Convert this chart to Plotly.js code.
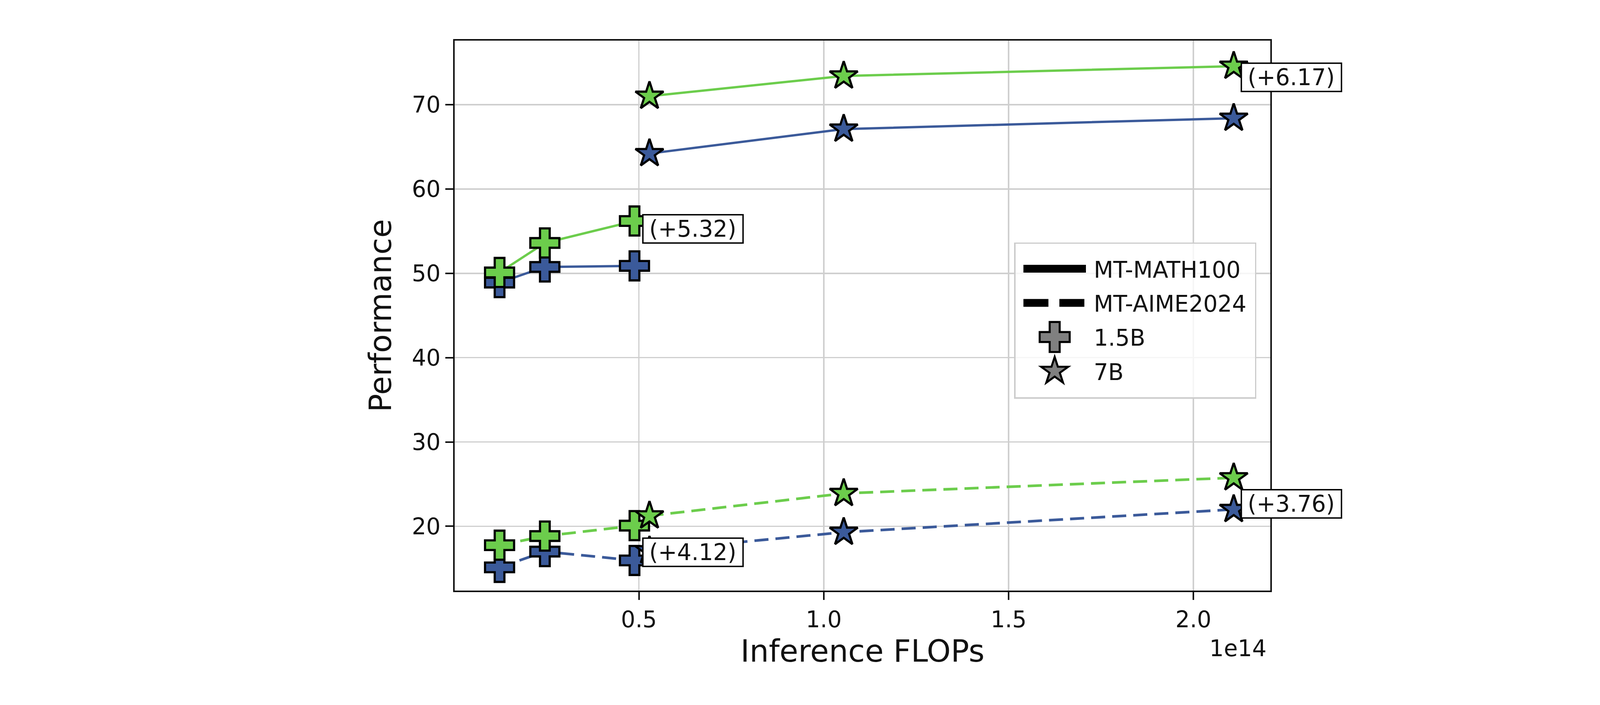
<!DOCTYPE html>
<html>
<head>
<meta charset="utf-8">
<script src="https://cdn.plot.ly/plotly-3.0.1.min.js"></script>
<style>
  html, body { margin: 0; padding: 0; background: #fff; overflow: hidden; }
  #wrap { width: 4400px; height: 1805px; overflow: hidden; }
  /* the chart is laid out at 1/4 size and scaled up, like a high-dpi figure */
  #chart { width: 1100px; height: 451px; transform: scale(4); transform-origin: 0 0; }
</style>
</head>
<body>
<div id="wrap"><div id="chart"></div></div>
<script>
// inference FLOPs (units of 1e14)
const flops15B = [0.123, 0.2455, 0.488];
const flops7B = [0.5285, 1.054, 2.109];

// MT-MATH100
const math15Blue = [48.9, 50.75, 50.88];
const math15Green = [50.1, 53.6, 56.2];
const math7Blue = [64.2, 67.1, 68.39];
const math7Green = [71.0, 73.4, 74.56];

// MT-AIME2024
const aime15Blue = [15.13, 17.0, 15.95];
const aime15Green = [17.76, 18.84, 20.08];
const aime7Blue = [17.1, 19.3, 22.0];
const aime7Green = [21.24, 23.9, 25.76];

const gainLabels = ['(+5.32)', '(+6.17)', '(+4.12)', '(+3.76)'];
const xTickVals = [0.5, 1.0, 1.5, 2.0];
const xTickText = ['0.5', '1.0', '1.5', '2.0'];
const yTickVals = [20, 30, 40, 50, 60, 70];
const E14 = 1e14;

const BLUE = '#3b5a9a', GREEN = '#6ccd4c';
const FONT = 'DejaVu Sans, Liberation Sans, sans-serif';

function series(x, y, color, symbol, dashed){
  return {
    type: 'scatter', mode: 'lines+markers', showlegend: false, hoverinfo: 'skip',
    x: x.map(v => v * E14), y: y,
    line: { color: color, width: dashed ? 1.7 : 1.5, dash: dashed ? '9px,4.5px' : 'solid' },
    marker: { symbol: symbol, size: symbol === 'cross' ? 15.5 : 13.5, color: color, line: { color: '#000', width: 1.4 } }
  };
}

const traces = [
  series(flops15B, math15Blue, BLUE, 'cross', false),
  series(flops15B, math15Green, GREEN, 'cross', false),
  series(flops7B, math7Blue, BLUE, 'star', false),
  series(flops7B, math7Green, GREEN, 'star', false),
  series(flops15B, aime15Blue, BLUE, 'cross', true),
  series(flops15B, aime15Green, GREEN, 'cross', true),
  series(flops7B, aime7Blue, BLUE, 'star', true),
  series(flops7B, aime7Green, GREEN, 'star', true),
  // legend entries
  { type:'scatter', mode:'lines', name:'MT-MATH100', legendgroup:'a', x:[null], y:[null], line:{ color:'#000', width:5 } },
  { type:'scatter', mode:'lines', name:'MT-AIME2024', legendgroup:'b', x:[null], y:[null], line:{ color:'#000', width:5, dash:'16px,7px' } },
  { type:'scatter', mode:'markers', name:'1.5B', legendgroup:'c', x:[null], y:[null], marker:{ symbol:'cross', size:16, color:'#808080', line:{ color:'#000', width:1.3 } } },
  { type:'scatter', mode:'markers', name:'7B', legendgroup:'d', x:[null], y:[null], marker:{ symbol:'star', size:13, color:'#808080', line:{ color:'#000', width:1.3 } } }
];

function gainNote(text, x, y, yshift){
  return {
    text: text, x: x * E14, y: y, xref: 'x', yref: 'y', showarrow: false,
    xanchor: 'left', yanchor: 'top', xshift: 4.5, yshift: yshift,
    bgcolor: '#fff', bordercolor: '#000', borderwidth: 0.9, borderpad: 0.5, width: 62,
    font: { family: FONT, size: 14.5, color: '#111' }
  };
}

const annotations = [
  gainNote(gainLabels[0], flops15B[2], math15Green[2], 4),
  gainNote(gainLabels[1], flops7B[2], math7Green[2], 2),
  gainNote(gainLabels[2], flops15B[2], aime15Blue[2], 14.5),
  gainNote(gainLabels[3], flops7B[2], aime7Blue[2], 13),
  { text: '1e14', xref: 'paper', yref: 'paper', x: 1, y: -0.104, xanchor: 'right', yanchor: 'middle',
    showarrow: false, font: { family: FONT, size: 14.5, color: '#111' } }
];

const axisCommon = {
  showline: true, linecolor: '#111', linewidth: 1.1, mirror: true,
  showgrid: true, gridcolor: '#cfcfcf', gridwidth: 0.9, zeroline: false,
  ticks: 'outside', ticklen: 5, tickwidth: 1, tickcolor: '#111',
  tickfont: { family: FONT, size: 14.5, color: '#111' }
};

const layout = {
  width: 1100, height: 451,
  margin: { l: 291, r: 286.5, t: 26.25, b: 73.25 },
  paper_bgcolor: '#fff', plot_bgcolor: '#fff',
  font: { family: FONT, color: '#111' },
  xaxis: Object.assign({}, axisCommon, {
    range: [0.0016 * E14, 2.208 * E14],
    tickvals: xTickVals.map(v => v * E14), ticktext: xTickText,
    title: { text: 'Inference FLOPs', font: { family: FONT, size: 19.5, color: '#111' }, standoff: 6 }
  }),
  yaxis: Object.assign({}, axisCommon, {
    range: [12.38, 77.59], tickvals: yTickVals,
    title: { text: 'Performance', font: { family: FONT, size: 19.5, color: '#111' }, standoff: 7 }
  }),
  showlegend: true,
  legend: {
    x: 0.686, y: 0.633, xanchor: 'left', yanchor: 'top',
    bgcolor: 'rgba(255,255,255,0.8)', bordercolor: '#cccccc', borderwidth: 0.9,
    font: { family: FONT, size: 14.5, color: '#111' },
    traceorder: 'grouped', tracegroupgap: 0, itemwidth: 40
  },
  annotations: annotations
};

Plotly.newPlot('chart', traces, layout, { staticPlot: true, displayModeBar: false });
</script>
</body>
</html>
